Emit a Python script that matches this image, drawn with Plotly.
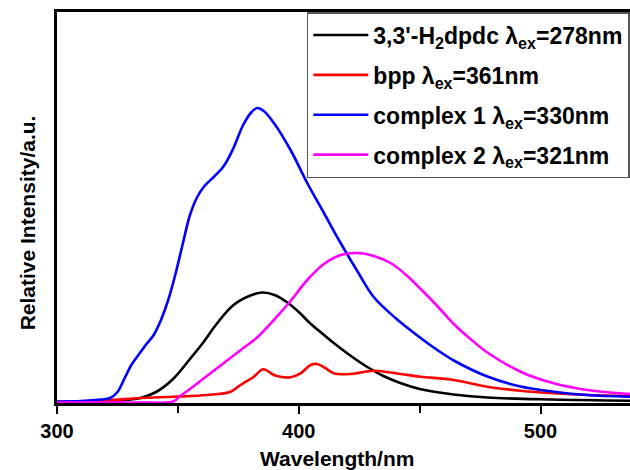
import plotly.graph_objects as go

# ---- data ----
black_x = [300, 315, 325, 334.5, 341, 348, 355, 360, 366, 373, 380, 385, 390, 395, 400, 405, 410, 415, 421, 428, 435, 442, 450, 456, 464, 478, 505, 537]
black_y = [2, 2.5, 3.5, 6, 12, 25, 45, 60, 80, 99, 108.5, 111.5, 109, 102, 92, 80, 70, 60, 49, 37.5, 28, 21, 15, 12.3, 9.5, 6.5, 4.5, 3.3]

red_x = [300, 320, 334.5, 348.3, 362.1, 371.8, 375.9, 381.4, 385.3, 389.7, 393, 396.6, 400.7, 404.9, 407.6, 411, 414.5, 421.4, 431, 442.1, 450.4, 464, 478, 491.7, 505.5, 520, 537.2]
red_y = [2, 3.5, 6, 7.3, 9, 12.3, 19, 27.3, 34.7, 29, 27, 26.7, 30.7, 39, 40, 36, 30.7, 30, 33.3, 30, 27.3, 24, 17.3, 13.3, 10.7, 9, 8]

blue_x = [300, 310, 318, 322, 325, 328, 331, 334, 337, 340, 343, 346, 349, 352, 355, 358, 361, 364.8, 369, 373, 377, 380.5, 382.8, 385.5, 389.7, 396.6, 403.5, 410.4, 417.3, 424.2, 431, 440, 450.4, 457.3, 464.1, 478, 491.7, 505.5, 519.3, 537.2]
blue_y = [2.5, 3, 4.5, 6, 12, 26, 40, 50, 60, 69, 84, 104, 130, 160, 189, 207, 218, 227, 238, 256, 279, 292, 296, 293, 281, 254, 221, 191, 161, 133, 107, 86, 66, 54, 43.5, 27.5, 17.5, 12.3, 9, 7.3]

mag_x = [300, 320, 334.5, 348, 351, 355, 362, 369, 376, 383, 389.7, 396.6, 403.5, 410.4, 417.3, 424.2, 431, 438, 444.9, 450.4, 457.3, 464.1, 471, 478, 491.7, 505.5, 519.3, 537.2]
mag_y = [1.5, 1.5, 1.5, 2.5, 8, 15, 28, 41, 54, 67, 84, 103, 124, 140, 149, 151, 148, 141, 128, 115, 98, 80, 65, 51.5, 32.3, 20.7, 14, 10]

names = [
    "3,3'-H<sub>2</sub>dpdc λ<sub>ex</sub>=278nm",
    "bpp λ<sub>ex</sub>=361nm",
    "complex 1 λ<sub>ex</sub>=330nm",
    "complex 2 λ<sub>ex</sub>=321nm",
]
colors = ["#000000", "#ff0000", "#0000ff", "#ff00ff"]

x_tickvals = [300, 400, 500]
x_ticktext = ["300", "400", "500"]

FONT = "Liberation Sans, Arial, sans-serif"

fig = go.Figure()
series = [(black_x, black_y), (red_x, red_y), (blue_x, blue_y), (mag_x, mag_y)]
for i, ((xs, ys), nm, col) in enumerate(zip(series, names, colors)):
    fig.add_trace(go.Scatter(
        x=xs, y=ys, mode="lines", name=nm, legendgroup=f"g{i}",
        line=dict(color=col, width=2.6, shape="spline", smoothing=1.0),
    ))

fig.update_layout(
    width=630, height=470,
    margin=dict(l=57, r=0, t=12, b=67),
    paper_bgcolor="white", plot_bgcolor="white",
    font=dict(family=FONT, color="black"),
    showlegend=True,
    legend=dict(
        x=0.436, xanchor="left", y=1.0, yanchor="top",
        bgcolor="white", bordercolor="#555555", borderwidth=1.5,
        font=dict(family=FONT, size=23, color="black", weight="bold"),
        itemwidth=55, tracegroupgap=7,
    ),
    xaxis=dict(
        range=[300, 537.0], showgrid=False, zeroline=False,
        showline=True, linecolor="black", linewidth=3, mirror=True,
        ticks="outside", ticklen=8, tickwidth=2, tickcolor="black",
        tickvals=x_tickvals, ticktext=x_ticktext,
        tickfont=dict(family=FONT, size=20, color="black", weight="bold"),
        minor=dict(tickvals=[350, 450], ticks="outside", ticklen=7, tickwidth=2, tickcolor="black"),
    ),
    yaxis=dict(
        range=[1, 392], showgrid=False, zeroline=False,
        showline=True, linecolor="black", linewidth=3, mirror=False,
        ticks="", showticklabels=False,
    ),
    annotations=[
        dict(text="<b>Relative Intensity/a.u.</b>", xref="paper", yref="paper",
             x=-0.052, y=0.46, xanchor="center", yanchor="middle", textangle=-90,
             showarrow=False, font=dict(family=FONT, size=21, color="black")),
        dict(text="<b>Wavelength/nm</b>", xref="paper", yref="paper",
             x=0.489, y=-0.108, xanchor="center", yanchor="top",
             showarrow=False, font=dict(family=FONT, size=21, color="black")),
    ],
)

fig.write_html("out.html")
